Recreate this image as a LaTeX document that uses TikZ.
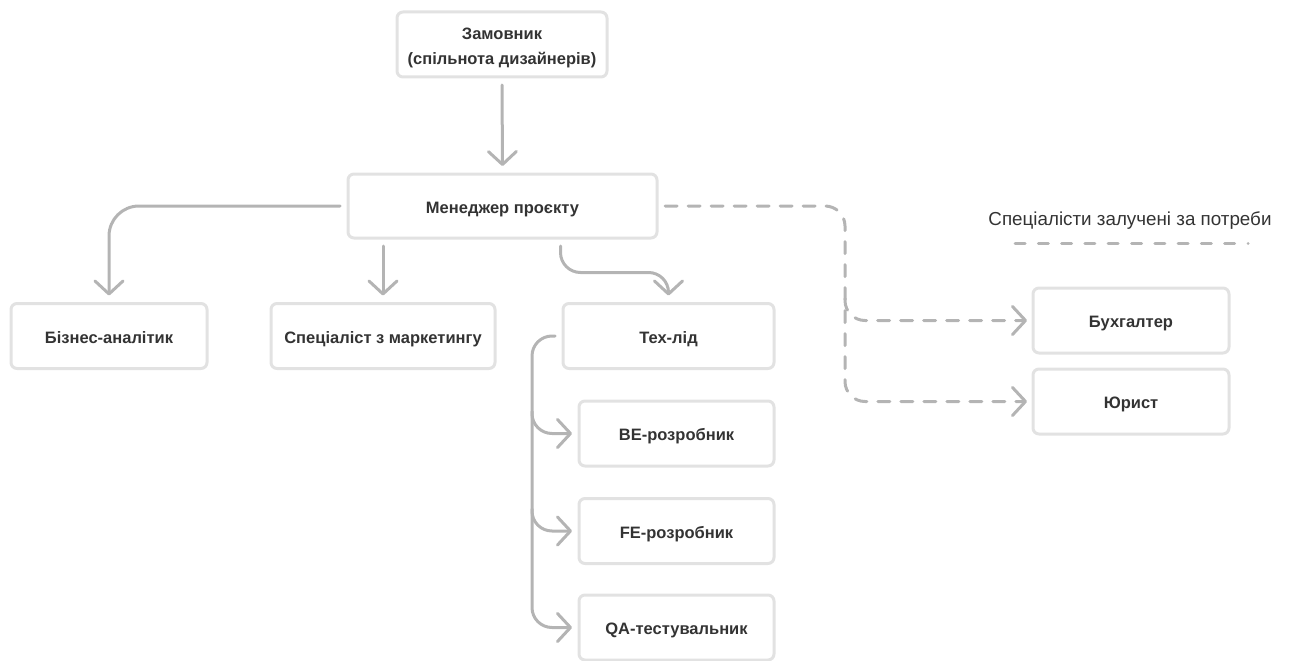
\documentclass[tikz,border=0pt]{standalone}
\usepackage{fontspec}
\setmainfont{Liberation Sans}
\usetikzlibrary{arrows.meta,calc}
\definecolor{boxline}{HTML}{E2E2E2}
\definecolor{linkgray}{HTML}{B4B4B4}
\definecolor{ink}{HTML}{333333}
\begin{document}
\begin{tikzpicture}[x=1pt,y=-1pt,
  role/.style={draw=boxline,line width=3pt,rounded corners=6pt,fill=white,
    minimum width=#1,minimum height=65pt,inner sep=0pt,outer sep=0pt,
    text=ink,font=\fontsize{16.5}{25.5}\selectfont\bfseries,align=center,
    text height=14.8pt,text depth=0pt},
  role/.default=196pt,
  link/.style={draw=linkgray,line width=3pt,line cap=round,line join=round,
    -{Straight Barb[length=13pt,width=28pt,round]}},
  optional/.style={link,dash pattern=on 12pt off 11pt},
  keyline/.style={draw=linkgray,line width=3pt,line cap=round,dash pattern=on 10pt off 13.3pt}]
\useasboundingbox (0,0) rectangle (1291,661);

% roles
\node[role=210pt,text height=41pt,text depth=0pt] (Z) at (502,44.5) {Замовник\\(спільнота дизайнерів)};
\node[role=309pt,minimum height=64pt] (PM) at (502.5,206) {Менеджер проєкту};
\node[role] (BA) at (109,336) {Бізнес-аналітик};
\node[role=224pt] (MK) at (383,336) {Спеціаліст з маркетингу};
\node[role=211pt] (TL) at (668.5,336) {Тех-лід};
\node[role=195pt] (BE) at (676.5,433.5) {BE-розробник};
\node[role=195pt] (FE) at (676.5,531) {FE-розробник};
\node[role=195pt] (QA) at (676.5,627.5) {QA-тестувальник};
\node[role] (ACC) at (1131,320.5) {Бухгалтер};
\node[role] (LAW) at (1131,401.5) {Юрист};

% legend
\node[text=ink,font=\fontsize{18.8}{22}\selectfont,inner sep=0pt] (LG) at (1130,221) {Спеціалісти залучені за потреби};
\draw[keyline] ($(LG.center)+(-115,22)$) -- ($(LG.center)+(118,22)$);

% reporting lines
\draw[link] ($(Z.south)+(0,8)$) -- ($(PM.north)+(0,-8)$);
\draw[link,rounded corners=30pt] ($(PM.west)+(-8,0)$) -| ($(BA.north)+(0,-8)$);
\draw[link] ($(MK.north |- PM.south)+(0,8)$) -- ($(MK.north)+(0,-8)$);
\coordinate (tlbend) at ($(TL.north)+(0,-31)$);
\draw[link,rounded corners=20pt] ($(PM.south)+(58,8)$) |- (tlbend) -- ($(TL.north)+(0,-8)$);

% tech team
\coordinate (spine) at ($(TL.west)+(-31,0)$);
\draw[link,rounded corners=20pt] ($(TL.west)+(-8,0)$) -- (spine) |- ($(QA.west)+(-7,0)$);
\draw[link,rounded corners=20pt] ($(spine |- BE.west)+(0,-22)$) -- (spine |- BE.west) -- ($(BE.west)+(-7,0)$);
\draw[link,rounded corners=20pt] ($(spine |- FE.west)+(0,-22)$) -- (spine |- FE.west) -- ($(FE.west)+(-7,0)$);

% specialists on demand
\coordinate (drop) at ($(PM.east)+(188,0)$);
\draw[optional,rounded corners=20pt] ($(PM.east)+(8,0)$) -- (drop) |- ($(LAW.west)+(-6,0)$);
\draw[optional,rounded corners=20pt] ($(drop |- ACC.west)+(0,-22)$) -- (drop |- ACC.west) -- ($(ACC.west)+(-6,0)$);
\end{tikzpicture}
\end{document}
